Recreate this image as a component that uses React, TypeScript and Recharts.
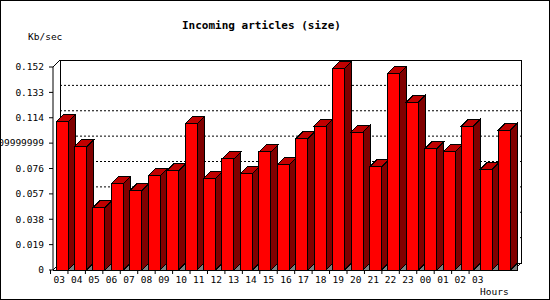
import React from "react";
import { BarChart, Bar, XAxis, YAxis, ReferenceLine, ReferenceArea } from "recharts";

// hours along the bottom, one bar per hour
const HOURS = ["03", "04", "05", "06", "07", "08", "09", "10", "11", "12", "13", "14", "15", "16", "17", "18", "19", "20", "21", "22", "23", "00", "01", "02", "03"];
const SIZE_KBPS = [
    0.111, 0.0922, 0.0467, 0.0646, 0.0594, 0.0705, 0.0743, 0.1095, 0.0686, 0.0832, 0.072, 0.0884,
    0.0787, 0.0981, 0.1078, 0.151, 0.1033, 0.0772, 0.1473, 0.1257, 0.0907,
    0.0884, 0.1078, 0.0753, 0.1048,
];
const Y_TICKS = [0, 0.019, 0.038, 0.057, 0.076, 0.095, 0.114, 0.133, 0.152];
const Y_TICK_LABELS = ["0", "0.019", "0.038", "0.057", "0.076", "0.09999999", "0.114", "0.133", "0.152"];
const GRID_VALUES = [0.019, 0.038, 0.057, 0.076, 0.095, 0.114, 0.133];

const data = HOURS.map((h, i) => ({ hour: h, size: SIZE_KBPS[i] }));

const D = 7; // 3D depth
const FONT = "'DejaVu Sans Mono', monospace";

function Bar3D(props: any) {
    const { x, y, width: w, height: h } = props;
    if (w == null || h == null) return null;
    return (
        <g stroke="#000" strokeWidth={1} shapeRendering="crispEdges">
            <polygon points={`${x + w},${y + h} ${x + w + D},${y + h - D} ${x + w + D},${y + h}`} fill="#808080" />
            <polygon points={`${x + w},${y} ${x + w + D},${y - D} ${x + w + D},${y + h - D} ${x + w},${y + h}`} fill="#800000" />
            <polygon points={`${x},${y} ${x + D},${y - D} ${x + w + D},${y - D} ${x + w},${y}`} fill="#c00000" />
            <rect x={x} y={y} width={w} height={h} fill="#ff0000" />
        </g>
    );
}

function Frame3D(props: any) {
    const { x, y, width, height } = props;
    const r = x + width;
    const b = y + height;
    return (
        <g stroke="#000" strokeWidth={1} fill="none" shapeRendering="crispEdges">
            <rect x={x + D} y={y - D} width={width} height={height} />
            <line x1={x} y1={y} x2={x + D} y2={y - D} />
            <line x1={x} y1={b} x2={x + D} y2={b - D} />
            <line x1={r} y1={b} x2={r + D} y2={b - D} />
            <line x1={x} y1={b} x2={r} y2={b} />
        </g>
    );
}

function BackGrid(props: any) {
    const { x1, y1, x2, y2 } = props;
    return <line x1={x1 + D} y1={y1 - D} x2={x2 + D} y2={y2 - D} stroke="#000" strokeDasharray="2 2" />;
}

function HourTick(props: any) {
    const { x, y, payload } = props;
    const cx = x - 2.5;
    return (
        <g>
            <line x1={cx - 8.7} y1={y} x2={cx - 8.7} y2={y + 4} stroke="#000" />
            <text x={cx} y={y + 13} textAnchor="middle" fontFamily={FONT} fontSize={9.5} fill="#000">
                {payload.value}
            </text>
        </g>
    );
}

export default function App() {
    return (
        <div
            style={{
                position: "absolute",
                left: 0,
                top: 0,
                width: 550,
                height: 300,
                border: "1px solid #000",
                boxSizing: "border-box",
                background: "#fff",
                overflow: "hidden",
            }}
        >
            <div style={{ position: "absolute", left: -1, top: -1 }}>
                <BarChart width={550} height={300} data={data} margin={{ top: 67, right: 36, bottom: 0, left: 0 }}>
                    <XAxis xAxisId="bars" dataKey="hour" hide height={0} />
                    <XAxis
                        xAxisId="lbl"
                        dataKey="hour"
                        height={30}
                        padding={{ left: 0, right: 25 }}
                        axisLine={false}
                        tickLine={false}
                        tickSize={0}
                        tickMargin={0}
                        interval={0}
                        tick={<HourTick />}
                    />
                    <YAxis
                        domain={[0, 0.152]}
                        ticks={Y_TICKS}
                        interval={0}
                        width={53}
                        tickSize={4}
                        tickMargin={5}
                        axisLine={{ stroke: "#000" }}
                        tickLine={{ stroke: "#000" }}
                        tick={{ fill: "#000", fontFamily: FONT, fontSize: 9.5 }}
                        tickFormatter={(v: number) => Y_TICK_LABELS[Y_TICKS.indexOf(v)] ?? String(v)}
                    />
                    <ReferenceArea xAxisId="bars" y1={0} y2={0.152} shape={<Frame3D />} zIndex={-100} />
                    {GRID_VALUES.map((v) => (
                        <ReferenceLine key={v} xAxisId="bars" y={v} shape={<BackGrid />} zIndex={-90} />
                    ))}
                    <Bar xAxisId="bars" dataKey="size" barSize={12} shape={<Bar3D />} isAnimationActive={false} />
                </BarChart>
            </div>
            <div style={{ position: "absolute", left: 181, top: 18, fontFamily: FONT, fontSize: 11, fontWeight: "bold" }}>
                Incoming articles (size)
            </div>
            <div style={{ position: "absolute", left: 27, top: 30, fontFamily: FONT, fontSize: 9.5 }}>Kb/sec</div>
            <div style={{ position: "absolute", left: 479, top: 285, fontFamily: FONT, fontSize: 9.5 }}>Hours</div>
        </div>
    );
}
